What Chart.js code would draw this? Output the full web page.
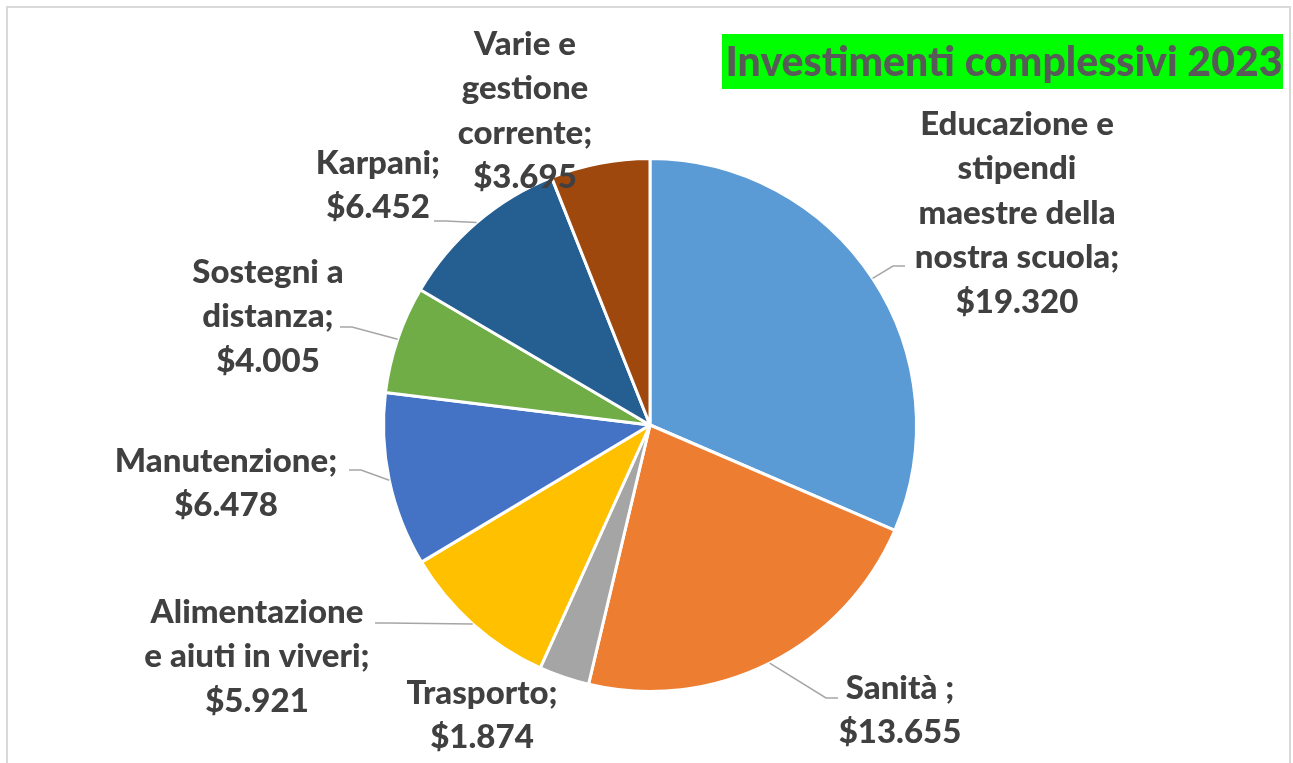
<!DOCTYPE html>
<html>
<head>
<meta charset="utf-8">
<script src="https://cdn.jsdelivr.net/npm/chart.js@4.4.0/dist/chart.umd.min.js"></script>
<style>
  body { margin: 0; background: #fff; }
  canvas { display: block; }
</style>
</head>
<body>
<canvas id="chart" width="1293" height="763"></canvas>
<script>
const categories = [
    'Educazione e\nstipendi\nmaestre della\nnostra scuola;',
    'Sanità ;',
    'Trasporto;',
    'Alimentazione\ne aiuti in viveri;',
    'Manutenzione;',
    'Sostegni a\ndistanza;',
    'Karpani;',
    'Varie e\ngestione\ncorrente;'
];
const values = [19320, 13655, 1874, 5921, 6478, 4005, 6452, 3695];
const colors = ['#5B9BD5', '#ED7D31', '#A5A5A5', '#FFC000', '#4472C4', '#70AD47', '#255E91', '#9E480E'];
const chartTitle = 'Investimenti complessivi 2023';

// where each label sits, relative to the pie centre (text centre x, first line y, leader end)
const labelLayout = [
    { dx: 367, dy: -301, end: [255, -159] },
    { dx: 250, dy: 263, end: [188, 273] },
    { dx: -168, dy: 268, end: null },
    { dx: -393, dy: 187, end: [-275, 198] },
    { dx: -424, dy: 36, end: [-301, 45] },
    { dx: -382, dy: -153, end: [-310, -98] },
    { dx: -272, dy: -262, end: [-216, -204] },
    { dx: -125, dy: -381, end: null }
];

function money(v) {
    return '$' + String(v).replace(/\B(?=(\d{3})+(?!\d))/g, '.');
}

const labelPlugin = {
    id: 'outsideLabels',
    beforeDraw(chart) {
        const ctx = chart.ctx;
        ctx.save();
        ctx.strokeStyle = '#d9d9d9';
        ctx.lineWidth = 2;
        ctx.strokeRect(7, 7, chart.width - 10, chart.height + 20);
        ctx.restore();
    },
    afterDraw(chart) {
        const ctx = chart.ctx;
        const arcs = chart.getDatasetMeta(0).data;
        ctx.save();

        // title box
        ctx.font = '900 41px Lato';
        ctx.fillStyle = '#00FF00';
        ctx.fillRect(722, 34, 561, 55);
        ctx.fillStyle = '#595959';
        ctx.textAlign = 'center';
        ctx.textBaseline = 'middle';
        ctx.fillText(chartTitle, 1004, 63);

        arcs.forEach((arc, i) => {
            const p = arc.getProps(['x', 'y', 'startAngle', 'endAngle', 'outerRadius'], true);
            const mid = (p.startAngle + p.endAngle) / 2;
            const lay = labelLayout[i];

            if (lay.end) {
                const ex = p.x + lay.end[0], ey = p.y + lay.end[1];
                const elbowX = ex + (lay.dx > 0 ? -12 : 12);
                ctx.strokeStyle = '#A6A6A6';
                ctx.lineWidth = 1.5;
                ctx.beginPath();
                ctx.moveTo(p.x + Math.cos(mid) * p.outerRadius, p.y + Math.sin(mid) * p.outerRadius);
                ctx.lineTo(elbowX, ey);
                ctx.lineTo(ex, ey);
                ctx.stroke();
            }

            const lines = categories[i].split('\n').concat(money(values[i]));
            ctx.font = '900 33px Lato';
            ctx.fillStyle = '#404040';
            lines.forEach((t, k) => {
                ctx.fillText(t, p.x + lay.dx, p.y + lay.dy + k * 44.5);
            });
        });
        ctx.restore();
    }
};

const ctx = document.getElementById('chart').getContext('2d');
new Chart(ctx, {
    type: 'pie',
    data: {
        labels: categories,
        datasets: [{
            data: values,
            backgroundColor: colors,
            borderColor: '#ffffff',
            borderWidth: 3
        }]
    },
    options: {
        responsive: false,
        animation: false,
        layout: { padding: { left: 382, right: 375, top: 157, bottom: 70 } },
        plugins: {
            legend: { display: false },
            tooltip: { enabled: false }
        }
    },
    plugins: [labelPlugin]
});
</script>
</body>
</html>
